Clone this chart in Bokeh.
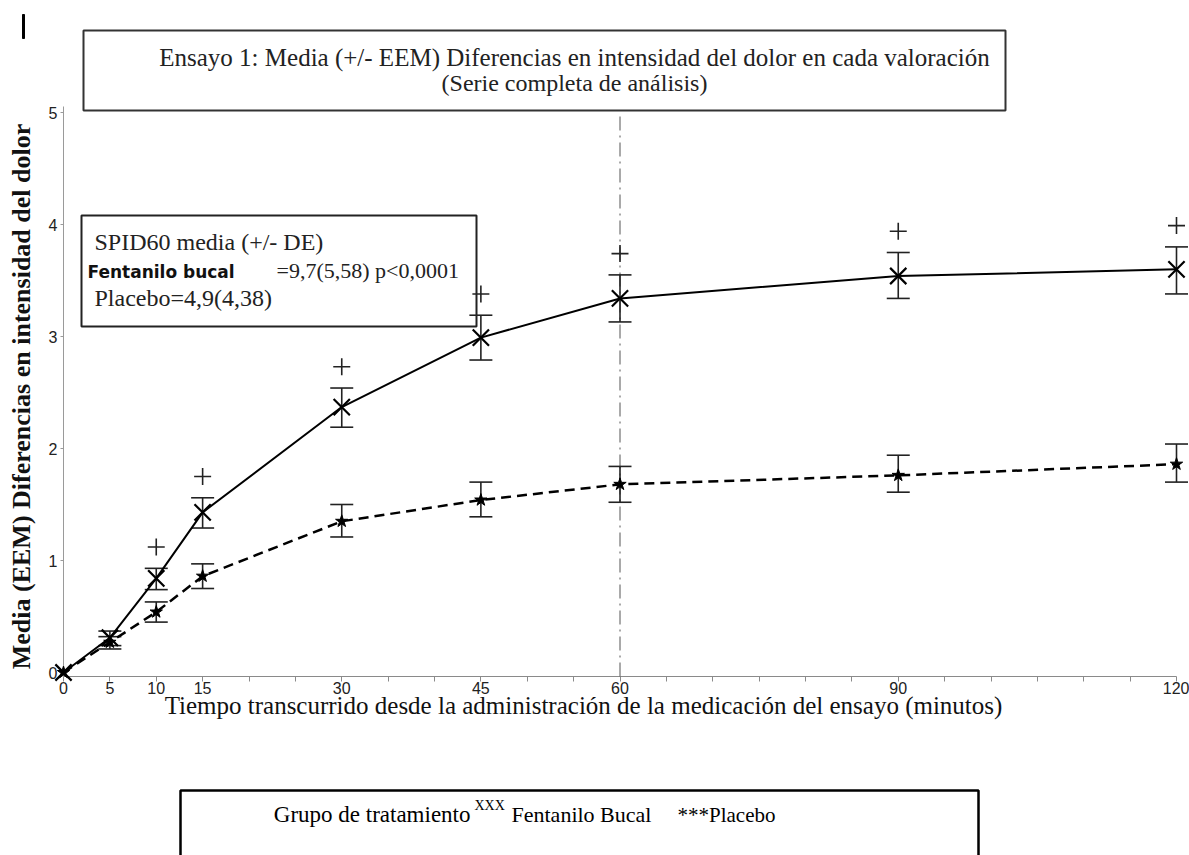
import math
from bokeh.plotting import figure
from bokeh.models import Range1d, FixedTicker
from bokeh.embed import file_html
from bokeh.resources import INLINE
from bokeh.core.properties import value

# ---------------- data ----------------
minutes = [0, 5, 10, 15, 30, 45, 60, 90, 120]
fentanilo_mean = [0.0, 0.31, 0.84, 1.43, 2.37, 2.99, 3.34, 3.54, 3.60]
fentanilo_low = [0.0, 0.24, 0.74, 1.29, 2.19, 2.79, 3.13, 3.34, 3.38]
fentanilo_high = [0.0, 0.37, 0.93, 1.56, 2.54, 3.19, 3.55, 3.75, 3.80]
placebo_mean = [0.0, 0.27, 0.54, 0.86, 1.35, 1.54, 1.68, 1.76, 1.86]
placebo_low = [0.0, 0.21, 0.45, 0.75, 1.21, 1.39, 1.52, 1.61, 1.70]
placebo_high = [0.0, 0.32, 0.63, 0.97, 1.50, 1.70, 1.84, 1.94, 2.04]
signif_minutes = [10, 15, 30, 45, 60, 90, 120]
signif_values = [1.12, 1.75, 2.73, 3.38, 3.74, 3.94, 3.99]
labelled_minutes = [0, 5, 10, 15, 30, 45, 60, 90, 120]
y_ticks = [0, 1, 2, 3, 4, 5]
reference_minute = 60

title_lines = ["Ensayo 1: Media (+/- EEM) Diferencias en intensidad del dolor en cada valoración",
               "(Serie completa de análisis)"]
x_title = "Tiempo transcurrido desde la administración de la medicación del ensayo (minutos)"
y_title = "Media (EEM) Diferencias en intensidad del dolor"
inset_head = "SPID60 media (+/- DE)"
inset_fent_name = "Fentanilo bucal"
inset_fent_value = "=9,7(5,58) p<0,0001"
inset_placebo = "Placebo=4,9(4,38)"
legend_prefix = "Grupo de tratamiento"
legend_sup = "XXX"
legend_fent = "Fentanilo Bucal"
legend_plac = "***Placebo"

# ---------------- layout helpers (canvas pixels -> data) ----------------
W, H = 1189, 855
X0, X120 = 63, 1176          # canvas x of minute 0 and minute 120
Y0, SY = 672, 112            # canvas y of value 0, px per unit
SX = (X120 - X0) / 120.0
FRAME_TOP, FRAME_BOTTOM = 106, 676


def dx(px):
    return (px - X0) / SX


def dy(py):
    return (Y0 - py) / SY


SERIF = "Liberation Serif"
SANS = "Liberation Sans"

p = figure(width=W, height=H, output_backend="svg", toolbar_location=None,
           x_range=Range1d(0, 120),
           y_range=Range1d(dy(FRAME_BOTTOM), dy(FRAME_TOP)),
           min_border_left=X0, min_border_right=W - X120,
           min_border_top=FRAME_TOP, min_border_bottom=H - FRAME_BOTTOM)
p.outline_line_color = None
p.xgrid.visible = False
p.ygrid.visible = False
p.background_fill_color = "white"
p.border_fill_color = "white"

# ---------------- axes ----------------
xa = p.xaxis[0]
xa.ticker = FixedTicker(ticks=list(range(0, 121, 5)))
xa.major_label_overrides = {t: "" for t in range(0, 121, 5) if t not in labelled_minutes}
xa.axis_line_color = "#8a8a8a"
xa.major_tick_line_color = "#8a8a8a"
xa.major_tick_out = 5
xa.major_tick_in = 0
xa.minor_tick_line_color = None
xa.major_label_text_font = SANS
xa.major_label_text_font_size = "16px"
xa.major_label_text_color = "#222222"
xa.major_label_standoff = 0

ya = p.yaxis[0]
ya.ticker = FixedTicker(ticks=y_ticks)
ya.axis_line_color = "#9a9a9a"
ya.major_tick_line_color = "#9a9a9a"
ya.major_tick_out = 3
ya.major_tick_in = 0
ya.minor_tick_line_color = None
ya.major_label_text_font = SANS
ya.major_label_text_font_size = "16px"
ya.major_label_text_color = "#222222"
ya.major_label_standoff = 3


def txt(x, y, s, size, font=SERIF, align="left", style="normal", color="#222222", angle=0.0):
    p.text(x=[dx(x)], y=[dy(y)], text=[s], text_font=value(font), text_font_size=value(size),
           text_font_style=style, text_align=align, text_baseline="middle",
           text_color=color, angle=angle, level="overlay")


def box(left, right, top, bottom, color="black", width=2.0, fill=None):
    p.quad(left=[dx(left)], right=[dx(right)], top=[dy(top)], bottom=[dy(bottom)],
           fill_color=fill, line_color=color, line_width=width, level="overlay")


# ---------------- inset box (under the data) ----------------
box(81, 476, 215, 326, color="#222222", width=2, fill="white")
txt(94, 241, inset_head, "24px")
txt(87, 271, inset_fent_name, "17px", font="DejaVu Sans", style="bold", color="#111111")
txt(276, 270, inset_fent_value, "22px")
txt(94, 297, inset_placebo, "24px")

# ---------------- reference line at 60 min ----------------
p.segment(x0=[reference_minute], y0=[dy(FRAME_BOTTOM)], x1=[reference_minute], y1=[dy(111)],
          line_color="#555555", line_width=1, line_dash="14 5 2 5", level="overlay")

# ---------------- error bars ----------------
for lo, hi in ((fentanilo_low, fentanilo_high), (placebo_low, placebo_high)):
    p.segment(x0=minutes[1:], y0=lo[1:], x1=minutes[1:], y1=hi[1:],
              line_color="#222222", line_width=1.6, level="overlay")
    p.scatter(minutes[1:], lo[1:], marker="dash", size=23, line_color="#222222",
              line_width=1.6, level="overlay")
    p.scatter(minutes[1:], hi[1:], marker="dash", size=23, line_color="#222222",
              line_width=1.6, level="overlay")

# ---------------- series ----------------
p.line(minutes, fentanilo_mean, line_color="black", line_width=2, level="overlay")
p.line(minutes, placebo_mean, line_color="black", line_width=2.5, line_dash="10 6", level="overlay")
p.scatter(minutes, fentanilo_mean, marker="x", size=23, line_color="black", line_width=2.2,
          level="overlay")
p.scatter(minutes, placebo_mean, marker="star", size=13, line_color="black", fill_color="black",
          level="overlay")
p.scatter(signif_minutes, signif_values, marker="cross", size=17, line_color="#222222",
          line_width=1.6, level="overlay")

# ---------------- title box ----------------
box(83, 1005, 30, 110, color="#333333", width=2)
txt(574, 57, title_lines[0], "25px", align="center")
txt(574, 82, title_lines[1], "24px", align="center")

# ---------------- axis titles ----------------
txt(21, 396, y_title, "26px", align="center", style="bold", color="#111111", angle=math.pi / 2)
txt(583, 705, x_title, "25px", align="center", color="#111111")

# ---------------- bottom legend box ----------------
box(180, 978, 790, 900, color="black", width=2.5)
txt(470, 814, legend_prefix, "23px", align="right", color="black")
txt(474, 805, legend_sup, "14px", color="black")
txt(511, 814, legend_fent, "22px", color="black")
txt(677, 814, legend_plac, "21px", color="black")

# ---------------- small mark top-left ----------------
box(22, 24, 14, 38, color="black", width=1, fill="black")

open("out.html", "w").write(file_html(p, INLINE))
